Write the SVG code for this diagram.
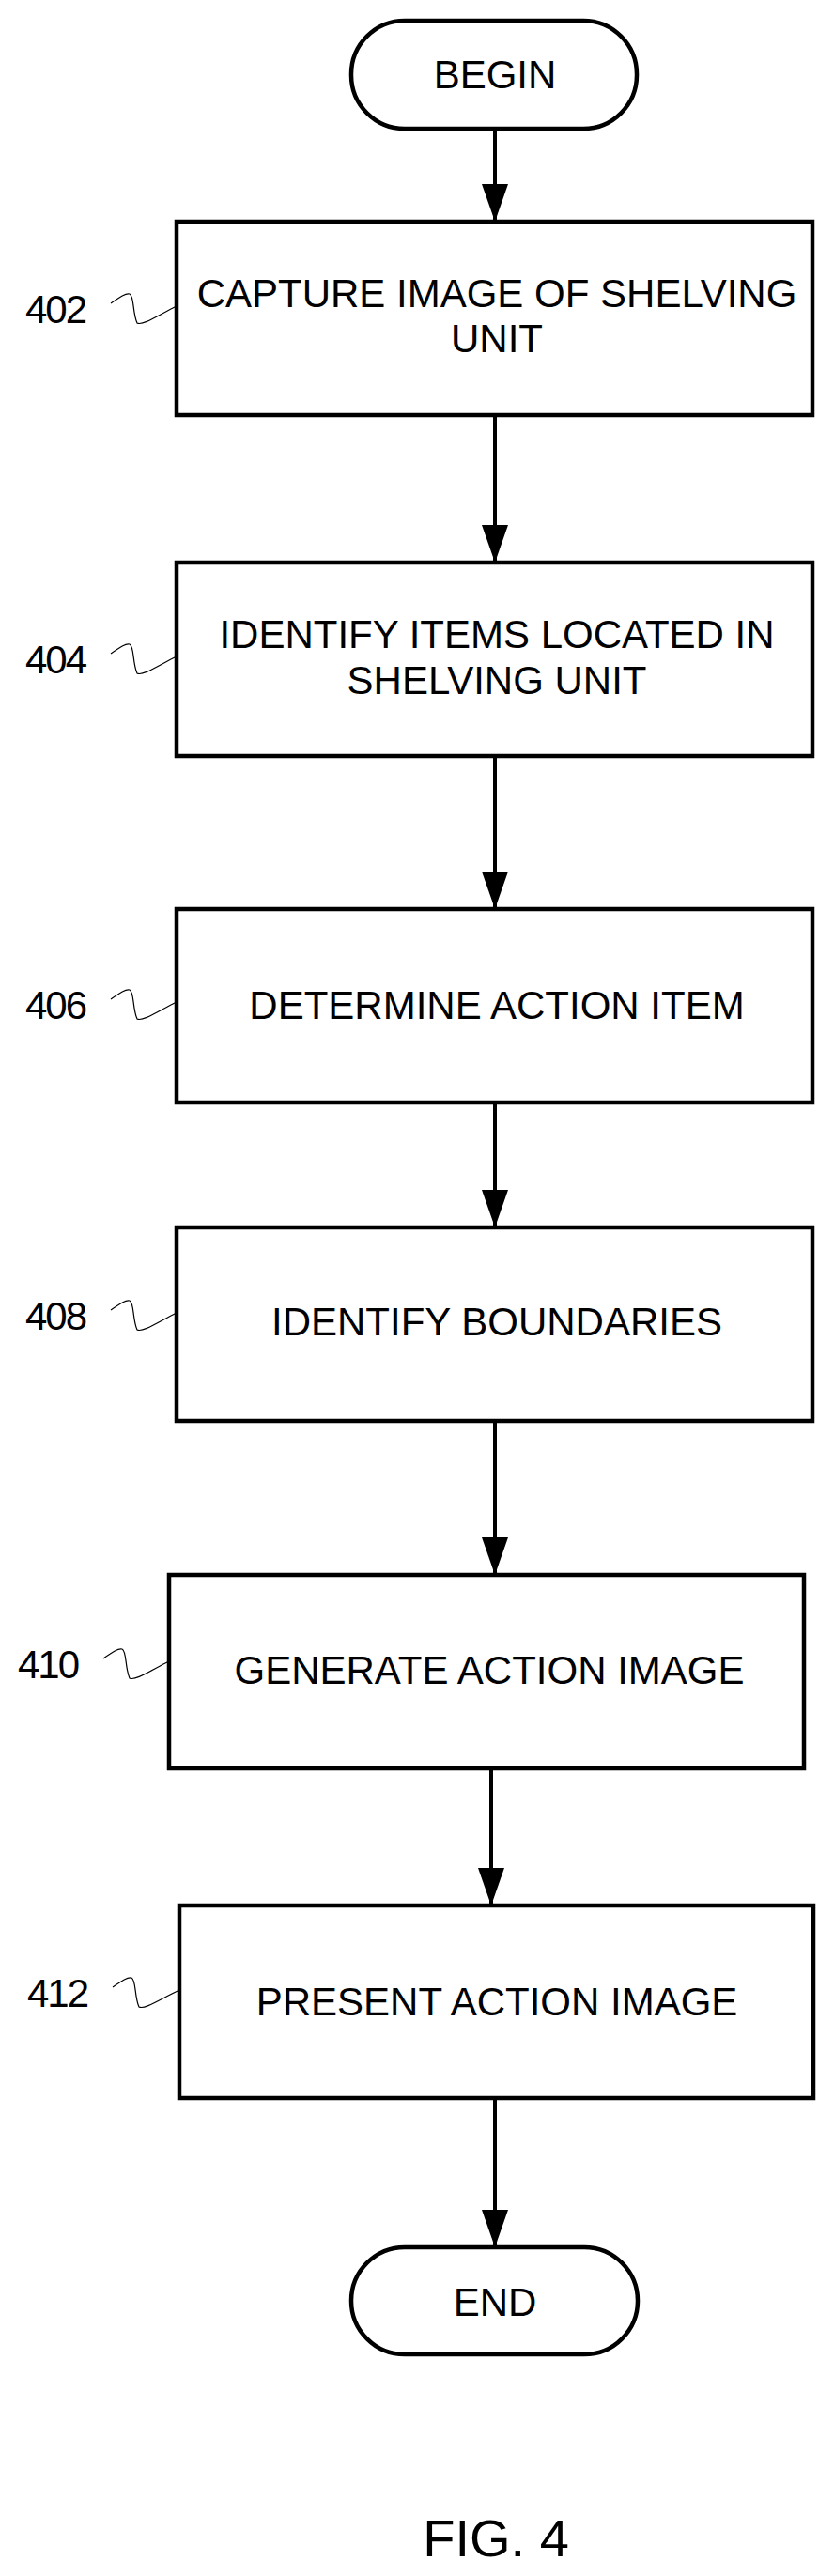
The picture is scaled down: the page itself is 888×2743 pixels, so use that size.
<svg xmlns="http://www.w3.org/2000/svg" width="888" height="2743" viewBox="0 0 888 2743">
<style>
.b{fill:#fff;stroke:#000;stroke-width:4.5}
.t{font-family:"Liberation Sans",Arial,sans-serif;font-size:42px;text-anchor:middle;fill:#000}
.l{font-family:"Liberation Sans",Arial,sans-serif;font-size:42px;fill:#000;letter-spacing:-2px}
.s{fill:none;stroke:#000;stroke-width:1.2}
.c{stroke:#000;stroke-width:4;fill:none}
</style>
<defs>
<marker id="d" markerUnits="userSpaceOnUse" markerWidth="40" markerHeight="28" refX="40" refY="14" orient="auto" viewBox="0 0 40 28">
<path d="M0,0 L40,14 L0,28 Z" fill="#000"/>
</marker>
</defs>
<g id="connectors">
<line class="c" x1="527" y1="137" x2="527" y2="236" marker-end="url(#d)"/>
<line class="c" x1="527" y1="442" x2="527" y2="599" marker-end="url(#d)"/>
<line class="c" x1="527" y1="805" x2="527" y2="968" marker-end="url(#d)"/>
<line class="c" x1="527" y1="1174" x2="527" y2="1307" marker-end="url(#d)"/>
<line class="c" x1="527" y1="1513" x2="527" y2="1677" marker-end="url(#d)"/>
<line class="c" x1="523" y1="1883" x2="523" y2="2029" marker-end="url(#d)"/>
<line class="c" x1="527" y1="2234" x2="527" y2="2393" marker-end="url(#d)"/>
</g>
<g id="begin"><rect class="b" x="374" y="22" width="304" height="115" rx="57"/><text class="t" x="527" y="94">BEGIN</text></g>
<g id="n402"><rect class="b" x="188" y="236" width="677" height="206"/><text class="t" x="529" y="327">CAPTURE IMAGE OF SHELVING</text><text class="t" x="529" y="375">UNIT</text>
<text class="l" x="27" y="344">402</text><path class="s" d="M118,323 C128,316 134,312 138,313 C143,315 141,333 146,344 C152,347 168,336 188,326"/></g>
<g id="n404"><rect class="b" x="188" y="599" width="677" height="206"/><text class="t" x="529" y="690">IDENTIFY ITEMS LOCATED IN</text><text class="t" x="529" y="739">SHELVING UNIT</text>
<text class="l" x="27" y="717">404</text><path class="s" d="M118,696 C128,689 134,685 138,686 C143,688 141,706 146,717 C152,720 168,709 188,699"/></g>
<g id="n406"><rect class="b" x="188" y="968" width="677" height="206"/><text class="t" x="529" y="1085">DETERMINE ACTION ITEM</text>
<text class="l" x="27" y="1085">406</text><path class="s" d="M118,1064 C128,1057 134,1053 138,1054 C143,1056 141,1074 146,1085 C152,1088 168,1077 188,1067"/></g>
<g id="n408"><rect class="b" x="188" y="1307" width="677" height="206"/><text class="t" x="529" y="1422">IDENTIFY BOUNDARIES</text>
<text class="l" x="27" y="1416">408</text><path class="s" d="M118,1395 C128,1388 134,1384 138,1385 C143,1387 141,1405 146,1416 C152,1419 168,1408 188,1398"/></g>
<g id="n410"><rect class="b" x="180" y="1677" width="676" height="206"/><text class="t" x="521" y="1793">GENERATE ACTION IMAGE</text>
<text class="l" x="19" y="1787">410</text><path class="s" d="M110,1766 C120,1759 126,1755 130,1756 C135,1758 133,1776 138,1787 C144,1790 160,1779 180,1769"/></g>
<g id="n412"><rect class="b" x="191" y="2029" width="675" height="205"/><text class="t" x="529" y="2146">PRESENT ACTION IMAGE</text>
<text class="l" x="29" y="2137">412</text><path class="s" d="M120,2116 C130,2109 136,2105 140,2106 C145,2108 143,2126 148,2137 C154,2140 170,2129 191,2119"/></g>
<g id="end"><rect class="b" x="374" y="2393" width="305" height="114" rx="57"/><text class="t" x="527" y="2466">END</text></g>
<text class="t" x="528" y="2722" style="font-size:56px">FIG. 4</text>
</svg>
